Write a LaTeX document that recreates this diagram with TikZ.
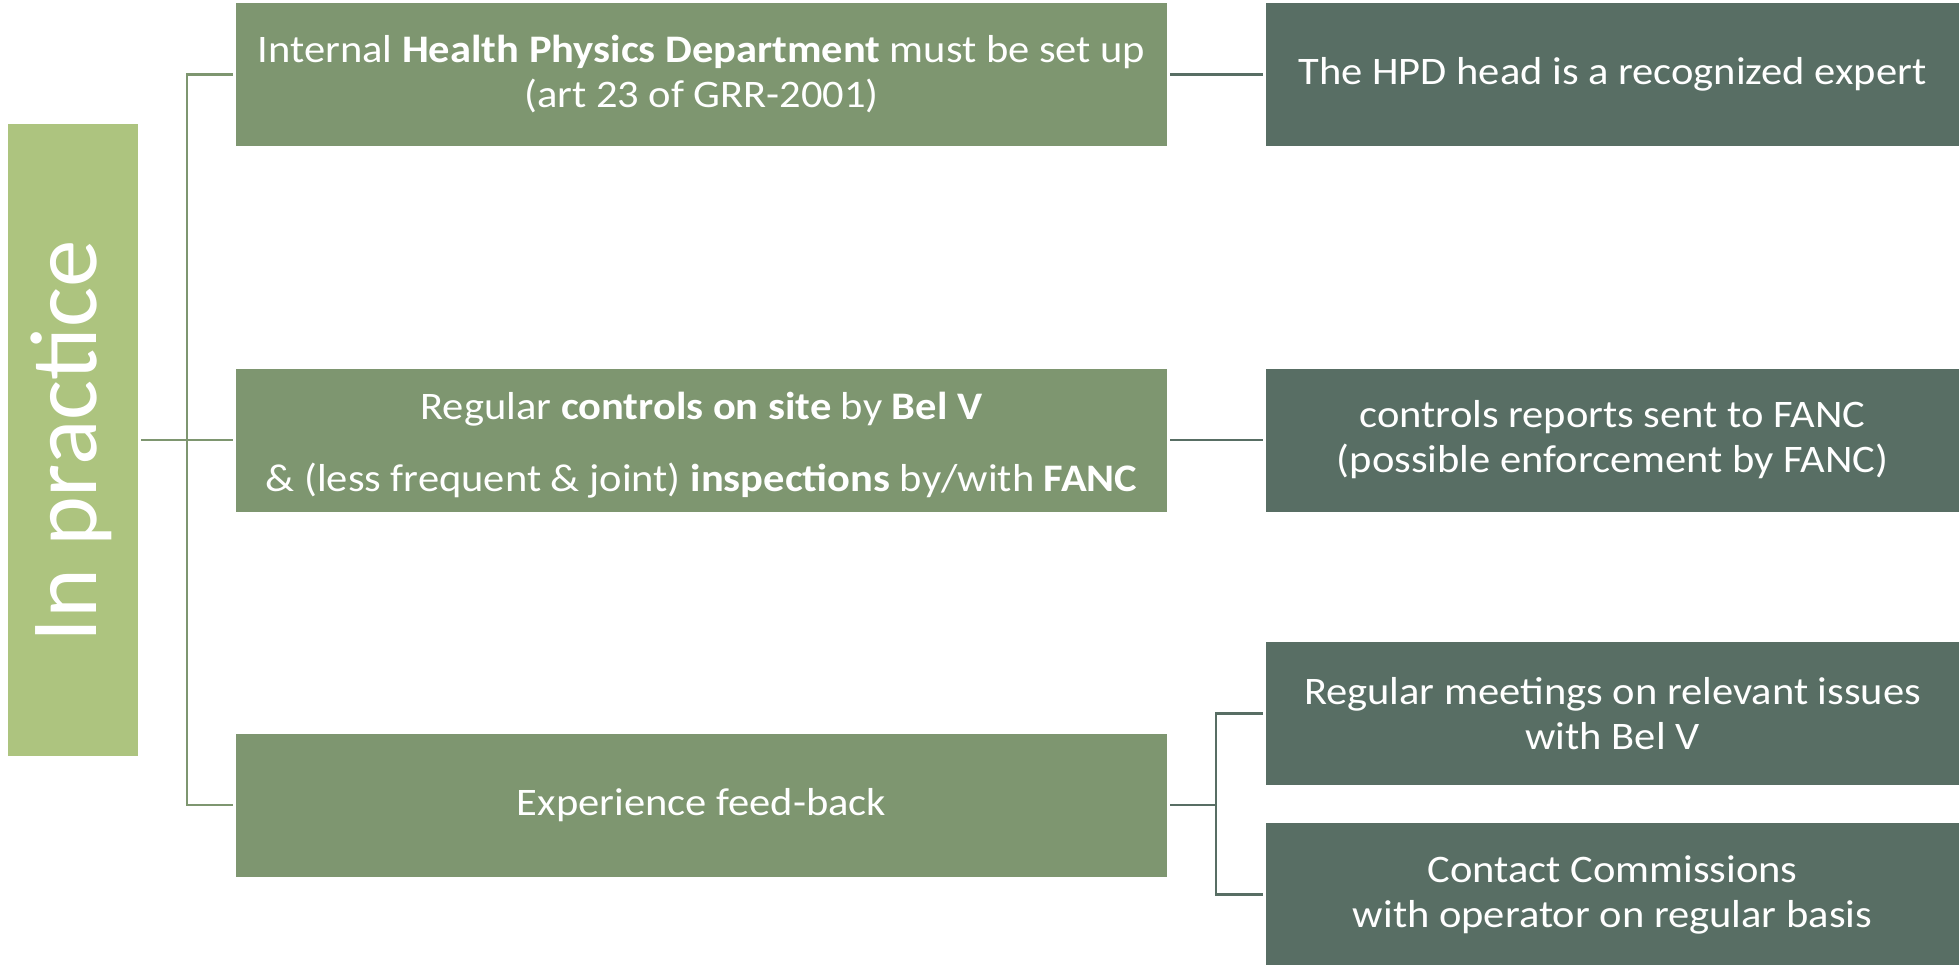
\documentclass[tikz,border=0pt]{standalone}
\usepackage{fontspec}
\setmainfont{Carlito}
\newfontfamily\widefont[FakeStretch=1.09]{Carlito}
\definecolor{leftgreen}{HTML}{ADC47F}
\definecolor{midgreen}{HTML}{7E9670}
\definecolor{darkgreen}{HTML}{586E64}
\begin{document}
\begin{tikzpicture}[x=1bp,y=-1bp,
  box/.style={rectangle, inner sep=0pt, text=white, align=center,
    font=\widefont\fontsize{39bp}{45bp}\selectfont},
  midbox/.style={box, fill=midgreen, minimum width=931bp, minimum height=143bp},
  rightbox/.style={box, fill=darkgreen, minimum width=693bp, minimum height=143bp},
  leftline/.style={draw=midgreen, line width=2.5bp},
  rightline/.style={draw=darkgreen, line width=2.5bp}]
\useasboundingbox (0,0) rectangle (1959,965);
\node[box, fill=leftgreen, minimum width=130bp, minimum height=632bp] (left) at (73,440) {};
\node[rotate=90, text=white, font=\fontsize{95bp}{110bp}\selectfont] (lefttext) at (71,441) {In practice};
\node[midbox] (m1) at (701.5,74.5) {Internal \textbf{Health Physics Department} must be set up\\(art 23 of GRR-2001)};
\node[midbox] (m2) at (701.5,440) {};
\node[box, yshift=-5bp] (m2text) at (m2.center) {Regular \textbf{controls on site} by \textbf{Bel V}\\[27bp]\& (less frequent \& joint) \textbf{inspections} by/with \textbf{FANC}};
\node[midbox] (m3) at (701.5,805) {Experience feed-back};
\node[rightbox] (r1) at (1612.5,74.5) {The HPD head is a recognized expert};
\node[rightbox] (r2) at (1612.5,440) {controls reports sent to FANC\\(possible enforcement by FANC)};
\node[rightbox] (r3) at (1612.5,713.5) {Regular meetings on relevant issues\\with Bel V};
\node[rightbox] (r4) at (1612.5,894.5) {Contact Commissions\\with operator on regular basis};
\coordinate (tl) at (187,74.5);
\coordinate (tb) at (187,805);
\draw[leftline] ([xshift=3bp]left.east) -- ([xshift=-3bp]m2.west);
\draw[leftline] ([xshift=-3bp]m1.west) -- (tl) -- (tb) -- ([xshift=-3bp]m3.west);
\draw[rightline] ([xshift=3bp]m1.east) -- ([xshift=-3bp]r1.west);
\draw[rightline] ([xshift=3bp]m2.east) -- ([xshift=-3bp]r2.west);
\coordinate (rt) at (1216,713.5);
\coordinate (rb) at (1216,894.5);
\draw[rightline] ([xshift=3bp]m3.east) -- (1216,805);
\draw[rightline] ([xshift=-3bp]r3.west) -- (rt) -- (rb) -- ([xshift=-3bp]r4.west);
\end{tikzpicture}
\end{document}
